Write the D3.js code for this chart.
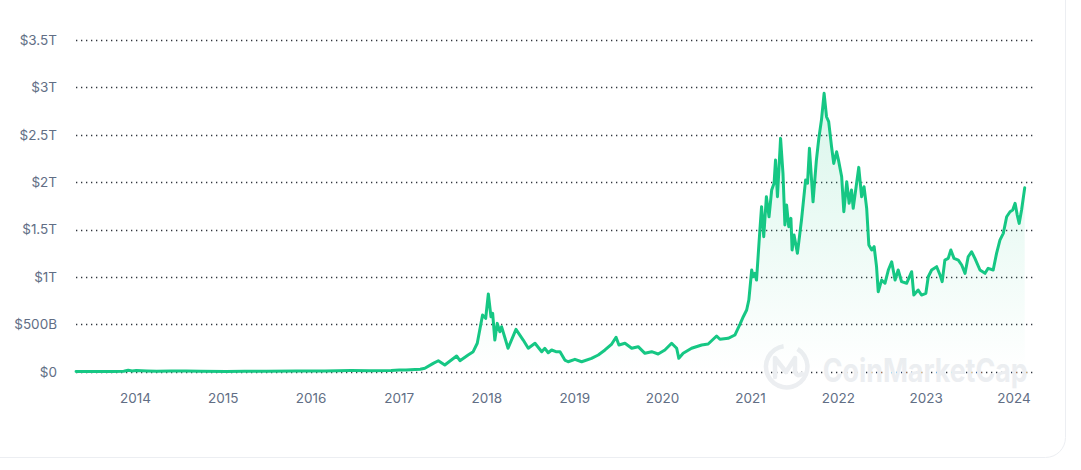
<!DOCTYPE html>
<html>
<head>
<meta charset="utf-8">
<script src="https://cdn.jsdelivr.net/npm/d3@7"></script>
<style>
  html, body { margin: 0; padding: 0; background: #ffffff; }
  svg { display: block; }
  text { font-family: Inter, "Noto Sans", sans-serif; }
</style>
</head>
<body>
<svg id="chart" width="1081" height="470"></svg>
<script>
const dates = [
  "2013-05-01","2013-07-01","2013-10-01","2013-11-15","2013-12-04","2013-12-20",
  "2014-01-06","2014-02-20","2014-04-01","2014-06-01","2014-08-01","2014-10-01",
  "2015-01-15","2015-04-01","2015-07-01","2015-11-05",
  "2016-01-01","2016-03-01","2016-06-17","2016-09-01","2016-12-01",
  "2017-01-04","2017-02-01","2017-03-10","2017-04-01","2017-04-20","2017-05-25","2017-06-15",
  "2017-07-12","2017-08-30","2017-09-13","2017-10-17","2017-11-07","2017-11-24","2017-12-16","2017-12-29",
  "2018-01-09","2018-01-20","2018-01-27","2018-02-05","2018-02-15","2018-02-26","2018-03-05",
  "2018-04-01","2018-05-04","2018-06-03","2018-06-24","2018-07-22","2018-08-19","2018-09-01",
  "2018-09-15","2018-09-29","2018-10-17","2018-11-03","2018-11-23","2018-12-07",
  "2019-01-04","2019-02-01","2019-03-14","2019-04-11","2019-05-09","2019-06-06","2019-06-24",
  "2019-07-06","2019-07-31","2019-08-28","2019-09-24","2019-10-22","2019-11-19","2019-12-16",
  "2020-01-13","2020-02-10","2020-03-02","2020-03-11","2020-03-29","2020-05-03","2020-06-14",
  "2020-07-11","2020-08-15","2020-08-29","2020-10-02","2020-10-30","2020-11-20","2020-12-04",
  "2020-12-18","2020-12-27",
  "2021-01-08","2021-01-14","2021-01-21","2021-01-28","2021-02-11","2021-02-18","2021-02-27",
  "2021-03-10","2021-03-21","2021-04-01","2021-04-11","2021-04-17","2021-04-25","2021-05-08",
  "2021-05-18","2021-05-26","2021-06-02","2021-06-11","2021-06-20","2021-06-25","2021-07-03",
  "2021-07-17","2021-08-03","2021-08-20","2021-08-28","2021-09-05","2021-09-20","2021-10-04",
  "2021-10-14","2021-10-25","2021-11-05","2021-11-15","2021-11-24","2021-12-06","2021-12-15",
  "2021-12-27",
  "2022-01-04","2022-01-17","2022-01-26","2022-02-07","2022-02-17","2022-02-27","2022-03-06",
  "2022-03-29","2022-04-10","2022-04-20","2022-05-01","2022-05-10","2022-05-22","2022-06-01",
  "2022-06-11","2022-06-18","2022-07-02","2022-07-16","2022-07-30","2022-08-13","2022-08-27",
  "2022-09-09","2022-09-23","2022-10-14","2022-11-04","2022-11-13","2022-12-01","2022-12-15",
  "2023-01-02","2023-01-12","2023-01-26","2023-02-16","2023-03-02","2023-03-11","2023-03-22",
  "2023-04-05","2023-04-16","2023-04-29","2023-05-17","2023-05-31","2023-06-14","2023-06-27",
  "2023-07-11","2023-07-25","2023-08-15","2023-09-05","2023-09-18","2023-10-09","2023-10-23",
  "2023-11-06","2023-11-20","2023-12-04","2023-12-18","2023-12-29",
  "2024-01-08","2024-01-17","2024-01-25","2024-02-04","2024-02-17"
];
// total market cap, billions of USD
const marketCapB = [
  1.6,1.2,1.6,5.5,15,8,
  12,8,6,8.5,7.5,5.5,
  3.4,3.8,4,6.5,
  7,7.5,12,11,13,
  18,17,23,25,36,88,116,
  71,166,116,176,211,300,598,563,
  820,580,616,334,510,422,475,
  247,447,334,247,300,211,247,
  200,229,211,211,123,105,
  131,105,141,176,229,292,363,
  282,300,247,264,194,211,187,
  229,300,247,141,194,247,282,
  292,377,342,352,387,500,580,
  651,756,
  1073,1002,1038,967,1495,1741,1424,
  1846,1635,1917,1988,2234,1846,2462,
  2093,1548,1759,1530,1618,1284,1442,
  1249,1601,2022,1988,2357,1793,2234,
  2462,2655,2937,2690,2638,2374,2198,
  2321,
  2230,2057,1688,2004,1777,1917,1724,
  2156,1846,1952,1724,1337,1284,1319,
  1108,844,967,933,1073,1160,967,
  1073,950,933,1055,809,862,809,
  827,1002,1073,1108,1020,950,1178,
  1196,1284,1196,1178,1126,1038,1213,
  1266,1196,1073,1038,1091,1073,1249,
  1389,1460,1635,1688,1706,
  1777,1653,1565,1706,1940
];
const yTicks = [0, 500, 1000, 1500, 2000, 2500, 3000, 3500];
const yTickLabels = ["$0", "$500B", "$1T", "$1.5T", "$2T", "$2.5T", "$3T", "$3.5T"];
const xTickYears = ["2014","2015","2016","2017","2018","2019","2020","2021","2022","2023","2024"];

const parse = d3.utcParse("%Y-%m-%d");
const data = dates.map((d, i) => ({ date: parse(d), v: marketCapB[i] }));

const svg = d3.select("#chart");

// card
svg.append("rect")
  .attr("x", -40).attr("y", -40)
  .attr("width", 1105.5).attr("height", 497.5)
  .attr("rx", 20).attr("ry", 20)
  .attr("fill", "#ffffff")
  .attr("stroke", "#eceef2")
  .attr("stroke-width", 1);

const x = d3.scaleUtc()
  .domain([parse("2014-01-01"), parse("2024-01-01")])
  .range([135, 1013.4]);
const y = d3.scaleLinear().domain([0, 3500]).range([371.7, 40]);

const plotLeft = 76, plotRight = 1033;

// grid lines
const grid = svg.append("g");
grid.selectAll("line").data(yTicks).join("line")
  .attr("x1", plotLeft).attr("x2", plotRight)
  .attr("y1", d => Math.round(y(d)) + 0.5).attr("y2", d => Math.round(y(d)) + 0.5)
  .attr("stroke", "#2f343c")
  .attr("stroke-width", 1.3)
  .attr("stroke-dasharray", "1.3,3.7");

// y labels
const yAxis = d3.axisLeft(y).tickValues(yTicks)
  .tickFormat((d, i) => yTickLabels[i]).tickSize(0).tickPadding(0);
const gy = svg.append("g").attr("transform", "translate(57,0)").call(yAxis);
gy.select(".domain").remove();
gy.selectAll("text")
  .attr("fill", "#616e85")
  .style("font-size", "13.5px")
  .style("font-family", "Inter, 'Noto Sans', sans-serif");

// x labels
const xAxis = d3.axisBottom(x)
  .tickValues(xTickYears.map(yr => parse(yr + "-01-01")))
  .tickFormat((d, i) => xTickYears[i]).tickSize(0).tickPadding(0);
const gx = svg.append("g").attr("transform", "translate(0,393)").call(xAxis);
gx.select(".domain").remove();
gx.selectAll("text")
  .attr("fill", "#616e85")
  .style("font-size", "13.5px")
  .style("font-family", "Inter, 'Noto Sans', sans-serif");

// watermark
const wm = svg.append("g").attr("fill", "none").attr("stroke", "#eceef1");
wm.append("path")
  .attr("d", d3.arc()({ innerRadius: 18.5, outerRadius: 23, startAngle: 0.55, endAngle: 2 * Math.PI - 0.15 }))
  .attr("transform", "translate(786.7,366.7)")
  .attr("fill", "#eceef1").attr("stroke", "none");
wm.append("path")
  .attr("d", "M775,377 L775,358 L786,372 L795,358 L795,372 Q797,377 802,374")
  .attr("stroke-width", 4.5).attr("stroke-linejoin", "round").attr("stroke-linecap", "round");
svg.append("text")
  .attr("x", 822.7).attr("y", 381.7)
  .attr("textLength", 205).attr("lengthAdjust", "spacingAndGlyphs")
  .attr("fill", "#eceef1")
  .style("font-size", "32px").style("font-weight", "700")
  .text("CoinMarketCap");

// gradient
const defs = svg.append("defs");
const grad = defs.append("linearGradient").attr("id", "areaGrad")
  .attr("gradientUnits", "userSpaceOnUse")
  .attr("x1", 0).attr("x2", 0).attr("y1", y(2937)).attr("y2", y(0));
grad.append("stop").attr("offset", "0%").attr("stop-color", "#16c784").attr("stop-opacity", 0.16);
grad.append("stop").attr("offset", "100%").attr("stop-color", "#16c784").attr("stop-opacity", 0.0);

const area = d3.area().x(d => x(d.date)).y0(y(0)).y1(d => y(d.v)).curve(d3.curveLinear);
svg.append("path").datum(data).attr("d", area).attr("fill", "url(#areaGrad)");

const line = d3.line().x(d => x(d.date)).y(d => y(d.v)).curve(d3.curveLinear);
svg.append("path").datum(data).attr("d", line)
  .attr("fill", "none")
  .attr("stroke", "#16c784")
  .attr("stroke-width", 3)
  .attr("stroke-linejoin", "round")
  .attr("stroke-linecap", "round");
</script>
</body>
</html>
